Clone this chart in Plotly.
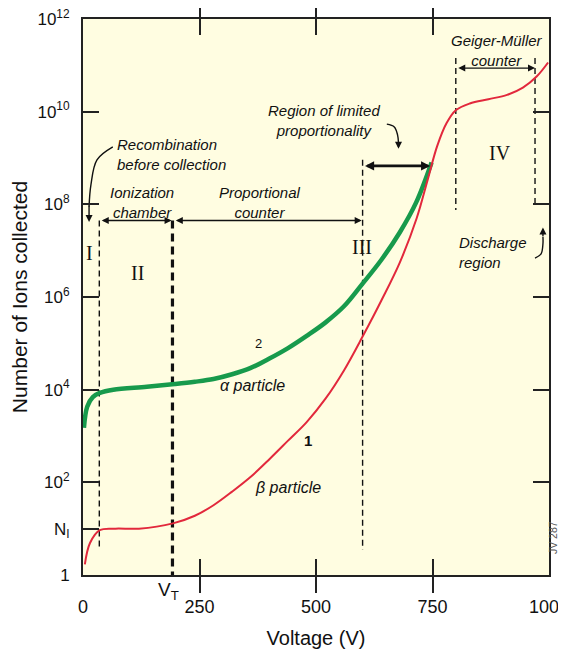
import plotly.graph_objects as go

# ---- data ----
voltage_alpha = [2, 9, 21, 36, 65, 137, 197, 240, 280, 320, 360, 400, 440, 480, 520,
                 560, 600, 640, 680, 715, 748]
ions_alpha = [1.5e3, 4.3e3, 6.9e3, 8.5e3, 1.0e4, 1.15e4, 1.32e4, 1.48e4, 1.7e4, 2.15e4,
              2.95e4, 4.7e4, 7.9e4, 1.45e5, 2.8e5, 6.3e5, 1.95e6, 6.3e6, 2.5e7, 1.1e8, 8.0e8]

voltage_beta = [4, 15, 36, 70, 120, 193, 240, 280, 320, 360, 400, 440, 480, 520, 560, 600,
                640, 680, 716, 740, 760, 780, 800, 830, 870, 910, 944, 974, 998]
ions_beta = [1.7, 4.9, 9.3, 10, 10, 13, 19, 32, 63, 132, 316, 794, 2.0e3, 6.3e3, 2.6e4,
             1.4e5, 8.3e5, 5.6e6, 5.0e7, 3.5e8, 1.8e9, 5.6e9, 1.07e10, 1.5e10, 1.86e10,
             2.3e10, 3.3e10, 5.8e10, 1.15e11]

x_tickvals = [0, 250, 500, 750, 1000]
x_ticktext = ["0", "250", "500", "750", "1000"]
y_tickvals = [1, 10, 1e2, 1e4, 1e6, 1e8, 1e10, 1e12]
y_ticktext = ["1", "N<sub>I</sub>", "10<sup>2</sup>", "10<sup>4</sup>", "10<sup>6</sup>",
              "10<sup>8</sup>", "10<sup>10</sup>", "10<sup>12</sup>"]
right_tickvals = [1e2, 1e4, 1e6, 1e8, 1e10]

V_T = 192
# region boundaries (V) and vertical extent (ions) of dashed separators
bound_v = [35, 600, 800, 970]
bound_top = [10**7.65, 10**8.96, 10**11.16, 10**11.16]
bound_bottom = [10**0.58, 10**0.54, 10**7.88, 10**7.99]
vt_top = 10**7.65

FONT = "Liberation Sans, Arial, sans-serif"
SERIF = "Liberation Serif, Times New Roman, serif"
GREEN = "#179a4c"
RED = "#e2283c"

fig = go.Figure()

# dashed region separators
for v, top, bot in zip(bound_v, bound_top, bound_bottom):
    fig.add_trace(go.Scatter(x=[v, v], y=[top, bot], mode="lines",
                             line=dict(color="#111", width=1.4, dash="6px,4px"),
                             hoverinfo="skip", showlegend=False))
fig.add_trace(go.Scatter(x=[V_T, V_T], y=[vt_top, 1], mode="lines",
                         line=dict(color="#111", width=3.2, dash="8px,5px"),
                         hoverinfo="skip", showlegend=False))

# curved arrow bodies
fig.add_trace(go.Scatter(x=[64, 30, 17, 13], y=[10**9.24, 10**8.96, 10**8.42, 10**7.95],
                         mode="lines", line=dict(color="#111", width=1.4, shape="spline"),
                         hoverinfo="skip", showlegend=False))
fig.add_trace(go.Scatter(x=[652, 668, 675, 677], y=[10**9.73, 10**9.67, 10**9.5, 10**9.33],
                         mode="lines", line=dict(color="#111", width=1.4, shape="spline"),
                         hoverinfo="skip", showlegend=False))
fig.add_trace(go.Scatter(x=[970, 983, 987, 987], y=[10**6.84, 10**6.93, 10**7.15, 10**7.3],
                         mode="lines", line=dict(color="#111", width=1.4, shape="spline"),
                         hoverinfo="skip", showlegend=False))

# curves
fig.add_trace(go.Scatter(x=voltage_alpha, y=ions_alpha, mode="lines", name="α particle",
                         line=dict(color=GREEN, width=4.5, shape="spline", smoothing=1.0),
                         showlegend=False))
fig.add_trace(go.Scatter(x=voltage_beta, y=ions_beta, mode="lines", name="β particle",
                         line=dict(color=RED, width=2, shape="spline", smoothing=1.0),
                         showlegend=False))

# invisible trace to anchor right-side tick axis
fig.add_trace(go.Scatter(x=[500], y=[10], yaxis="y2", mode="markers",
                         marker=dict(opacity=0), hoverinfo="skip", showlegend=False))

ann = []


def text(x, y, t, size=15, italic=True, xanchor="center", family=FONT, **kw):
    ann.append(dict(x=x, y=y, xref="x", yref="y", text=(f"<i>{t}</i>" if italic else t),
                    showarrow=False, xanchor=xanchor, yanchor="middle",
                    font=dict(family=family, size=size, color="#111"), **kw))


def arrow(x, y, ax, ay, width=1.4, both=False, size=1.0):
    ann.append(dict(x=x, y=y, ax=ax, ay=ay, xref="x", yref="y", axref="x", ayref="y",
                    text="", showarrow=True, arrowhead=2, arrowsize=size,
                    arrowwidth=width, arrowcolor="#111",
                    arrowside="end+start" if both else "end"))


text(69, 9.07, "Recombination<br>before collection", xanchor="left", align="left")
text(127, 8.05, "Ionization<br>chamber")
text(380, 8.05, "Proportional<br>counter")
text(517, 9.8, "Region of limited<br>proportionality")
text(888, 11.33, "Geiger-Müller<br>counter")
text(803, 6.97, "Discharge<br>region", xanchor="left", align="left")
text(895, 9.11, "IV", size=20, italic=False, family=SERIF)
text(599, 7.08, "III", size=20, italic=False, family=SERIF)
text(118, 6.52, "II", size=20, italic=False, family=SERIF)
text(15, 6.95, "I", size=20, italic=False, family=SERIF)
text(376, 5.0, "2", size=13, italic=False)
text(290, 4.1, "α particle", size=16, xanchor="left")
text(483, 2.91, "<b>1</b>", size=15, italic=False)
text(365, 1.88, "β particle", size=16, xanchor="left")

# arrowheads / double arrows
arrow(13, 7.62, 13, 8.0)
arrow(677, 9.2, 677, 9.36)
arrow(987, 7.5, 987, 7.28)
arrow(190, 7.65, 37, 7.65, both=True)
arrow(598, 7.65, 196, 7.65, both=True)
arrow(745, 8.83, 602, 8.83, width=2.6, both=True, size=0.7)
arrow(970, 10.94, 802, 10.94, both=True)

# V_T label and figure code
ann.append(dict(x=V_T - 8, y=-0.003, xref="x", yref="paper", text="V<sub>T</sub>",
                showarrow=False, xanchor="center", yanchor="top",
                font=dict(family=FONT, size=19, color="#111")))
ann.append(dict(x=1.026, y=0.8, xref="paper", yref="y", text="JV 287", textangle=-90,
                showarrow=False, font=dict(family=FONT, size=10.5, color="#555")))

# the page body adds an 8px offset, margins compensate for it
fig.update_layout(
    width=566, height=650,
    margin=dict(l=75, r=25, t=11, b=83, autoexpand=False),
    paper_bgcolor="white", plot_bgcolor="#fffde1",
    font=dict(family=FONT, color="#111"),
    annotations=ann,
    xaxis=dict(range=[0, 1000], tickvals=x_tickvals, ticktext=x_ticktext,
               ticks="inside", ticklen=16, tickwidth=1.5, tickcolor="#222",
               showline=True, linecolor="#222", linewidth=2, mirror="allticks",
               showgrid=False, zeroline=False, tickfont=dict(size=18),
               ticklabelstandoff=14, automargin=False, ticklabeloverflow="allow",
               title=dict(text="Voltage (V)", font=dict(size=20), standoff=15)),
    yaxis=dict(type="log", range=[0, 12], tickvals=y_tickvals, ticktext=y_ticktext,
               ticks="inside", ticklen=16, tickwidth=1.5, tickcolor="#222",
               showline=True, linecolor="#222", linewidth=2, mirror=True,
               showgrid=False, zeroline=False, tickfont=dict(size=17),
               ticklabelstandoff=8, automargin=False, ticklabeloverflow="allow",
               title=dict(text="Number of Ions collected", font=dict(size=21), standoff=4)),
    yaxis2=dict(type="log", range=[0, 12], overlaying="y", side="right",
                tickvals=right_tickvals, ticks="inside", ticklen=16, tickwidth=1.5,
                tickcolor="#222", showticklabels=False, showgrid=False,
                zeroline=False, showline=False, automargin=False),
)

fig.write_html("out.html")
